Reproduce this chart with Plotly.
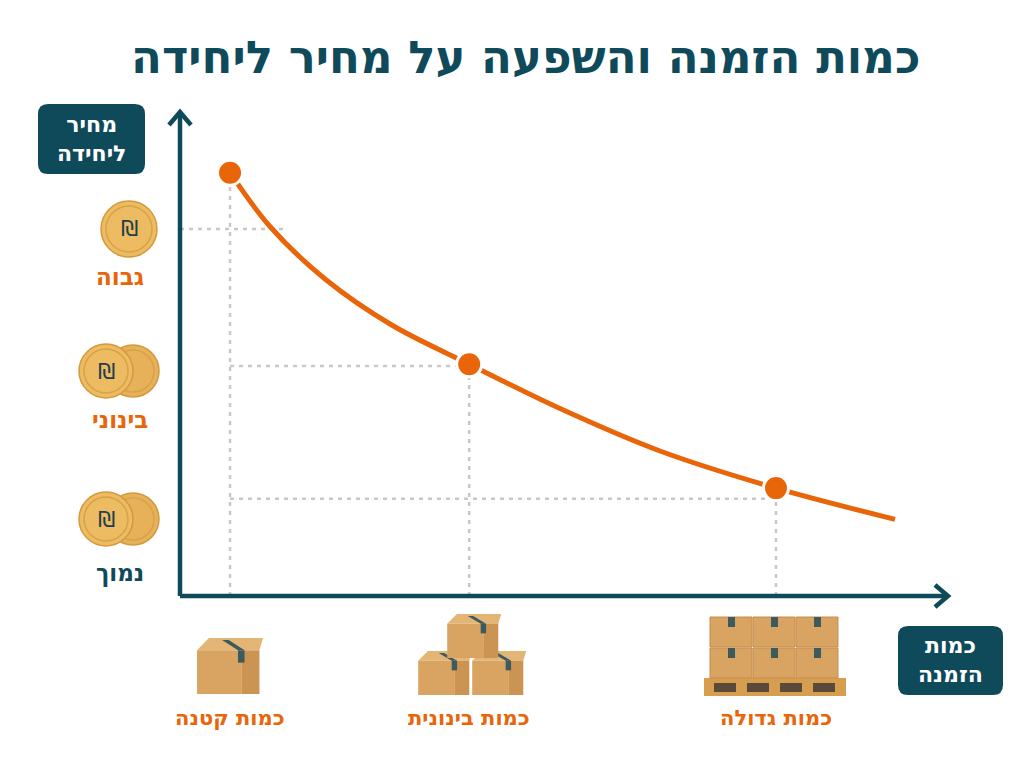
import plotly.graph_objects as go

W, H = 1024, 768
TEAL = "#0F4A5B"
ORANGE = "#E8650A"
GUIDE = "#C8C8C8"
FONT = "DejaVu Sans"

# ---------------- data ----------------
title_text = "כמות הזמנה והשפעה על מחיר ליחידה"
y_axis_title = "מחיר<br>ליחידה"
x_axis_title = "כמות<br>הזמנה"

quantity_labels = ["כמות קטנה", "כמות בינונית", "כמות גדולה"]
quantity_values = [8.25, 47.7, 98.3]
unit_price_values = [87.1, 47.7, 22.2]

price_level_labels = ["גבוה", "בינוני", "נמוך"]
price_level_values = [75.5, 47.3, 20.0]
price_level_colors = [ORANGE, ORANGE, TEAL]

curve_quantity = [8.25, 14.84, 23.92, 34.92, 47.7, 62.68, 79.17, 98.3, 117.93]
curve_price = [87.1, 76.03, 65.23, 55.76, 47.7, 38.58, 29.84, 22.2, 15.78]

# ---------------- layout geometry ----------------
X_RANGE = [0, 127]
Y_RANGE = [0, 100]
PL, PR, PT, PB = 180, 950, 110, 596


def px(x):
    return x / W


def py(y):
    return 1 - y / H


def xpix(q):
    return PL + (q - X_RANGE[0]) / (X_RANGE[1] - X_RANGE[0]) * (PR - PL)


shapes = []
annotations = []


def text_px(x, y, text, size, color):
    annotations.append(dict(x=px(x), y=py(y), xref="paper", yref="paper", text=text,
                            showarrow=False, xanchor="center", yanchor="middle",
                            align="center",
                            font=dict(family=FONT, size=size, color=color)))


def line_px(x0, y0, x1, y1, color, width):
    shapes.append(dict(type="line", xref="paper", yref="paper",
                       x0=px(x0), y0=py(y0), x1=px(x1), y1=py(y1),
                       line=dict(color=color, width=width)))


def path_px(points, fill, line_color=None, line_width=0, closed=True):
    s = "M " + " L ".join(f"{px(x):.5f},{py(y):.5f}" for x, y in points)
    if closed:
        s += " Z"
    shapes.append(dict(type="path", xref="paper", yref="paper", path=s,
                       fillcolor=fill, line=dict(color=line_color or fill, width=line_width)))


def rrect_px(x0, y0, x1, y1, r, fill):
    def P(x, y):
        return f"{px(x):.5f},{py(y):.5f}"
    s = (f"M {P(x0 + r, y0)} L {P(x1 - r, y0)} Q {P(x1, y0)} {P(x1, y0 + r)} "
         f"L {P(x1, y1 - r)} Q {P(x1, y1)} {P(x1 - r, y1)} "
         f"L {P(x0 + r, y1)} Q {P(x0, y1)} {P(x0, y1 - r)} "
         f"L {P(x0, y0 + r)} Q {P(x0, y0)} {P(x0 + r, y0)} Z")
    shapes.append(dict(type="path", xref="paper", yref="paper", path=s,
                       fillcolor=fill, line=dict(width=0)))


def rect_px(x0, y0, x1, y1, fill, line_color=None, lw=0):
    shapes.append(dict(type="rect", xref="paper", yref="paper",
                       x0=px(x0), y0=py(y1), x1=px(x1), y1=py(y0),
                       fillcolor=fill, line=dict(color=line_color or fill, width=lw)))


def circle_px(cx, cy, r, fill, line_color, lw):
    shapes.append(dict(type="circle", xref="paper", yref="paper",
                       x0=px(cx - r), x1=px(cx + r), y0=py(cy + r), y1=py(cy - r),
                       fillcolor=fill, line=dict(color=line_color, width=lw)))


def coin(cx, cy, r, front=True):
    circle_px(cx, cy, r, "#EDBB62" if front else "#E6B158", "#D39A3E", 1.5)
    circle_px(cx, cy, r - 5, "rgba(0,0,0,0)", "#D8A247", 1.5)
    if front:
        text_px(cx, cy, "₪", 22, "#1E3F4C")


def box(cx, bottom, w, h):
    top_h = h * 0.22
    depth = w * 0.18
    path_px([(cx - w / 2, bottom - h + top_h), (cx - w / 2 + depth, bottom - h),
             (cx + w / 2, bottom - h), (cx + w / 2 - depth * 0.3, bottom - h + top_h)],
            "#E4B676")
    rect_px(cx - w / 2, bottom - h + top_h, cx + w * 0.18, bottom, "#D9A462")
    rect_px(cx + w * 0.18, bottom - h + top_h, cx + w / 2 - depth * 0.3, bottom, "#CC9453")
    path_px([(cx - w * 0.12, bottom - h + 2), (cx - w * 0.02, bottom - h + 2),
             (cx + w * 0.22, bottom - h + top_h), (cx + w * 0.12, bottom - h + top_h)],
            "#3D5A5F")
    rect_px(cx + w * 0.12, bottom - h + top_h, cx + w * 0.22, bottom - h + top_h + h * 0.22, "#3D5A5F")


# ---------------- guides (data coordinates) ----------------
for q, v in zip(quantity_values, unit_price_values):
    shapes.append(dict(type="line", xref="x", yref="y", x0=q, x1=q, y0=Y_RANGE[0], y1=v,
                       line=dict(color=GUIDE, width=2.5, dash="4px,5px"), layer="below"))
guide_ends = [17.8, quantity_values[1], quantity_values[2]]
guide_starts = [X_RANGE[0], quantity_values[0], quantity_values[0]]
for s, e, v in zip(guide_starts, guide_ends, price_level_values):
    shapes.append(dict(type="line", xref="x", yref="y", x0=s, x1=e, y0=v, y1=v,
                       line=dict(color=GUIDE, width=2.5, dash="4px,5px"), layer="below"))

# ---------------- axes with arrows ----------------
line_px(PL, PB, PL, 112, TEAL, 4.5)
line_px(PL, PB, 948, PB, TEAL, 4.5)
path_px([(169, 125), (PL, 112), (191, 125)], "rgba(0,0,0,0)", TEAL, 4.5, closed=False)
path_px([(935, 585), (948, PB), (935, 607)], "rgba(0,0,0,0)", TEAL, 4.5, closed=False)

# axis title boxes
rrect_px(38, 104, 145, 174, 10, TEAL)
text_px(91.5, 139, f"<b>{y_axis_title}</b>", 22, "white")
rrect_px(898, 626, 1003, 695, 10, TEAL)
text_px(950.5, 660, f"<b>{x_axis_title}</b>", 22, "white")

# ---------------- price level coins and labels ----------------
coin_pos = [(129, 229), (119, 371), (119, 519)]
label_y = [277, 420, 573]
for i, (lab, col) in enumerate(zip(price_level_labels, price_level_colors)):
    cx, cy = coin_pos[i]
    if i == 0:
        coin(cx, cy, 28)
    else:
        coin(cx + 14, cy, 26, front=False)
        coin(cx - 13, cy, 27)
    text_px(120, label_y[i], f"<b>{lab}</b>", 23, col)

# ---------------- quantity boxes and labels ----------------
bx = [xpix(q) for q in quantity_values]
box(bx[0], 694, 66, 56)
box(bx[1] - 24, 695, 54, 44)
box(bx[1] + 30, 695, 54, 44)
box(bx[1] + 5, 658, 54, 44)
px0 = bx[2] - 72
rect_px(px0, 678, px0 + 142, 696, "#D69E4E")
for k in range(4):
    rect_px(px0 + 10 + k * 33, 683, px0 + 32 + k * 33, 692, "#5A4A3A")
for row in range(2):
    for col in range(3):
        x0 = px0 + 6 + col * 43
        y0 = 617 + row * 31
        rect_px(x0, y0, x0 + 42, y0 + 30, "#D9A462", "#C48C4C", 1)
        rect_px(x0 + 18, y0, x0 + 25, y0 + 10, "#3D5A5F")
for x, lab in zip(bx, quantity_labels):
    text_px(x, 718, f"<b>{lab}</b>", 21, ORANGE)

# title
text_px(525, 57, f"<b>{title_text}</b>", 45, TEAL)

# ---------------- traces ----------------
fig = go.Figure()
fig.add_trace(go.Scatter(x=curve_quantity, y=curve_price, mode="lines",
                         line=dict(color=ORANGE, width=5, shape="spline", smoothing=1.0),
                         hoverinfo="skip", showlegend=False))
fig.add_trace(go.Scatter(x=quantity_values, y=unit_price_values, mode="markers",
                         marker=dict(size=25, color=ORANGE, line=dict(color="white", width=3)),
                         showlegend=False))

fig.update_layout(
    width=W, height=H,
    margin=dict(l=0, r=0, t=0, b=0),
    paper_bgcolor="white", plot_bgcolor="rgba(0,0,0,0)",
    xaxis=dict(domain=[px(PL), px(PR)], range=X_RANGE, visible=False),
    yaxis=dict(domain=[py(PB), py(PT)], range=Y_RANGE, visible=False),
    shapes=shapes, annotations=annotations,
    font=dict(family=FONT),
)

fig.write_html("out.html", config={"displayModeBar": False},
               post_script="document.body.style.margin='0';document.body.style.overflow='hidden';")
